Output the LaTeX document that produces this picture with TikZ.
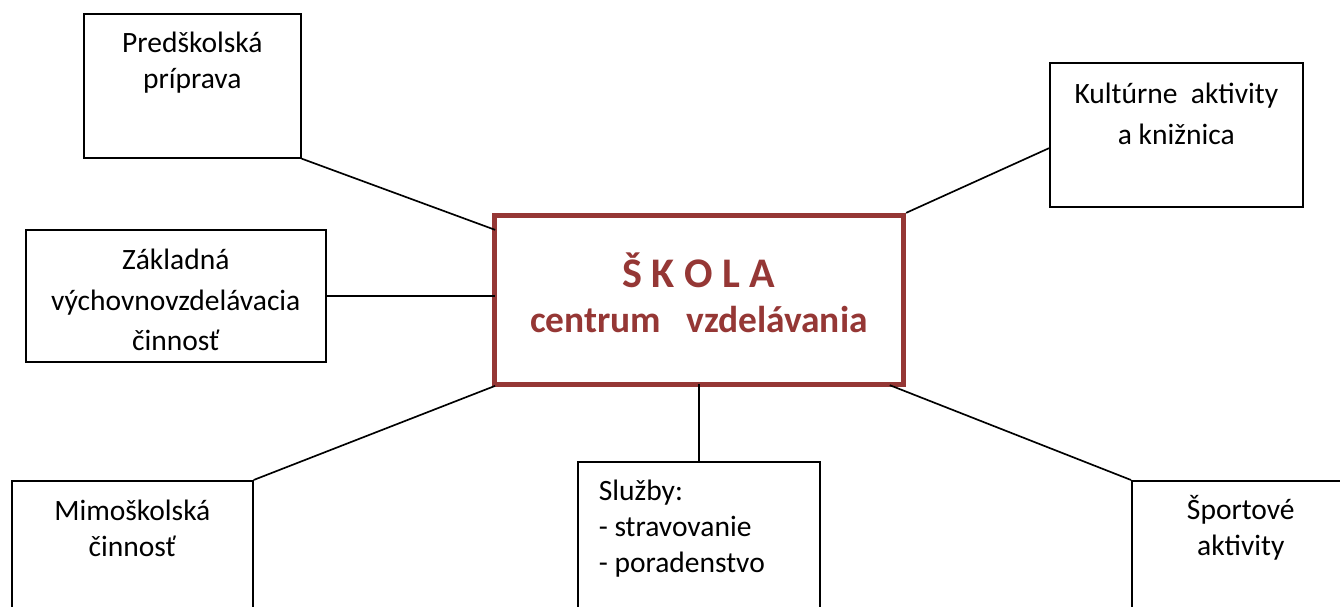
\documentclass[tikz,border=0pt]{standalone}
\usepackage{fontspec}
\setmainfont{Carlito}
\usepackage{xcolor}
\usetikzlibrary{positioning}
\definecolor{skolared}{HTML}{953735}
\tikzset{
  boxnode/.style={draw,line width=0.95pt,anchor=north west,align=center,inner sep=0pt,
    font=\fontsize{16.8}{20.4}\selectfont},
  mainnode/.style={draw=skolared,line width=3pt,text=skolared,align=center,inner sep=0pt,
    font=\fontsize{21.3}{26}\selectfont\bfseries},
  linkline/.style={line width=0.95pt}
}
\begin{document}
\begin{tikzpicture}[x=0.02cm,y=-0.02cm]
\useasboundingbox (0,0) rectangle (1340,607);
\node[mainnode,minimum width=8.18cm,minimum height=3.38cm] (skola) at (699,300)
  {{\fontsize{24}{26}\selectfont Š K O L A}\\centrum\ \ \ vzdelávania\\[-17.6pt]\mbox{}};
\node[boxnode,minimum width=4.34cm,minimum height=2.88cm] (pred) at (83,13)
  {Predškolská\\príprava\\[9pt]\mbox{}};
\node[boxnode,minimum width=5.06cm,minimum height=2.88cm] (kult) at (1049,62)
  {Kultúrne\ \ aktivity\\[3.4pt]a knižnica\\[3.5pt]\mbox{}};
\node[boxnode,minimum width=6cm,minimum height=2.64cm] (zakl) at (25,229)
  {Základná\\[2.5pt]výchovnovzdelávacia\\[2.5pt]činnosť\\[-25pt]\mbox{}};
\node[boxnode,minimum width=4.82cm,minimum height=3.6cm] (mimo) at (11,480)
  {Mimoškolská\\činnosť\\[27.7pt]\mbox{}};
\node[boxnode,align=left,text width=4cm,inner xsep=0.42cm,minimum height=3.96cm] (sluzby) at (577,461)
  {Služby:\\-\hspace{0.225em}stravovanie\\-\hspace{0.225em}poradenstvo\\[19pt]\mbox{}};
\node[boxnode,minimum width=4.36cm,minimum height=3.6cm] (sport) at (1131,480)
  {Športové\\aktivity\\[31pt]\mbox{}};
\draw[linkline,shorten >=-2pt] (pred.south east) -- (skola.161);
\draw[linkline] (kult.186) -- (skola.north east);
\draw[linkline,shorten >=-2pt] (zakl.east) -- (zakl.east -| skola.west);
\draw[linkline,shorten >=-2pt] (mimo.north east) -- (skola.south west);
\draw[linkline,shorten >=-2pt] (sluzby.north) -- (sluzby.north |- skola.south);
\draw[linkline,shorten <=-3pt] (skola.-24) -- (sport.north west);
\end{tikzpicture}
\end{document}
